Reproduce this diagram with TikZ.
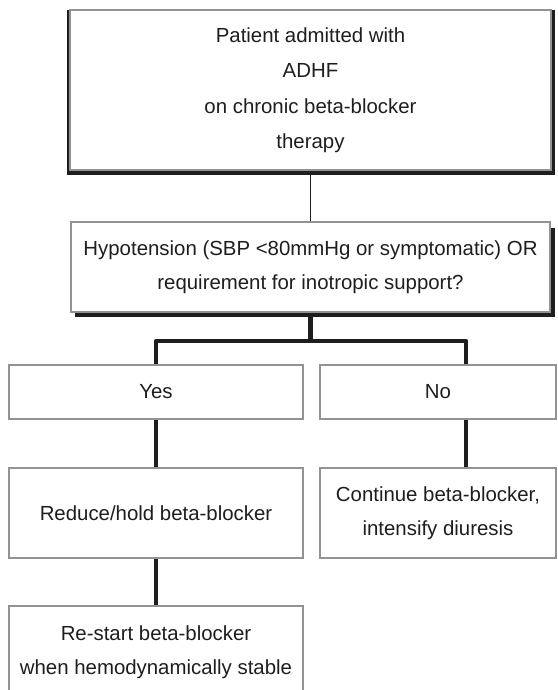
\documentclass[tikz,border=0pt]{standalone}
\usepackage{fontspec}
\setmainfont{Liberation Sans}
\definecolor{ink}{HTML}{1E1E1E}
\definecolor{edge}{HTML}{939393}
\begin{document}
\begin{tikzpicture}[x=1pt,y=-1pt,
  box/.style={draw=edge, line width=1.3pt, fill=white, inner sep=0pt, text=ink, align=center, font=\fontsize{20.4}{34}\selectfont},
  thinconn/.style={draw=ink, line width=1.3pt},
  thickconn/.style={draw=ink, line width=4.5pt, line join=round}]
\clip (0,0) rectangle (557,690);
\fill[white] (0,0) rectangle (557,690);
% top box with dark sides and bottom
\fill[ink] (66.5,10) rectangle (554.5,175);
\node[box, font=\fontsize{20.4}{35.5}\selectfont, minimum width=481pt, minimum height=160pt] (top) at (310.5,90) {Patient admitted with\\ADHF\\on chronic beta-blocker\\therapy};
% question box with drop shadow
\fill[ink] (75,228) rectangle (554.5,317);
\node[box, minimum width=479pt, minimum height=90pt] (hyp) at (310.5,267) {Hypotension (SBP <80mmHg or symptomatic) OR\\requirement for inotropic support?};
\node[box, minimum width=294pt, minimum height=54pt] (yes) at (156,392) {Yes};
\node[box, minimum width=236pt, minimum height=54pt] (no) at (438,392) {No};
\node[box, minimum width=294pt, minimum height=90pt] (reduce) at (156,513) {Reduce/hold beta-blocker};
\node[box, minimum width=236pt, minimum height=90pt] (cont) at (438,513) {Continue beta-blocker,\\intensify diuresis};
\node[box, minimum width=294pt, minimum height=92pt] (restart) at (156,652) {Re-start beta-blocker\\when hemodynamically stable};
% connectors
\coordinate (bar) at (311,341);
\coordinate (nox) at (466,0);
\draw[thinconn] (top.south) -- (hyp.north);
\draw[thickconn] (hyp.south) -- (hyp.south |- bar);
\draw[thickconn] (yes.north) |- (bar) -| (no.north -| nox);
\draw[thickconn] (yes.south) -- (reduce.north);
\draw[thickconn] (no.south -| nox) -- (cont.north -| nox);
\draw[thickconn] (reduce.south) -- (restart.north);
\end{tikzpicture}
\end{document}
